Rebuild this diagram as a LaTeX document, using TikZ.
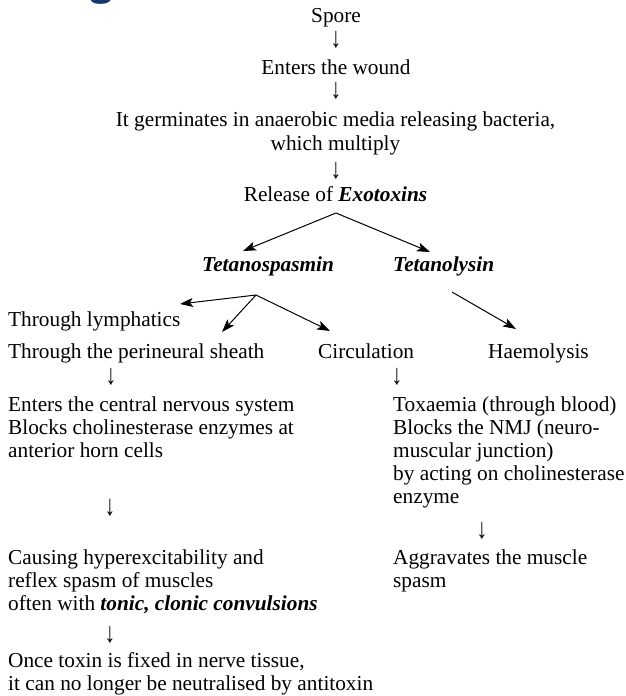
\documentclass[tikz,border=0pt]{standalone}
\usepackage{fontspec}
\setmainfont{Liberation Serif}
\newfontfamily\headfont{Fira Sans}
\usetikzlibrary{arrows.meta}
\definecolor{headblue}{RGB}{22,56,110}
\newcommand{\dnarrow}{\scalebox{1}[1.35]{↓}}
\begin{document}
\begin{tikzpicture}[x=1pt,y=-1pt,
  txt/.style={inner sep=0pt, font=\fontsize{21.3}{23.5}\selectfont},
  lft/.style={txt, anchor=base west},
  ctr/.style={txt, anchor=base},
  darr/.style={txt, anchor=center},
  arr/.style={-{Stealth[length=13pt,width=9pt,inset=3pt]}, line width=1pt}]
\useasboundingbox (0,0) rectangle (626,696);
% heading fragment
\begin{scope}
\clip (0,0) rectangle (626,696);
\node[inner sep=0pt, anchor=base west, text=headblue, font=\headfont\bfseries\fontsize{40}{40}\selectfont] (head) at (90,-5) {g};
\end{scope}
% top chain
\node[ctr] (spore) at (336,23) {Spore};
\node[darr] (d1) at (336,40) {\dnarrow};
\node[ctr] (wound) at (336,74) {Enters the wound};
\node[darr] (d2) at (336,91) {\dnarrow};
\node[ctr] (germ1) at (335.5,126) {It germinates in anaerobic media releasing bacteria,};
\node[ctr] (germ2) at (335.5,150) {which multiply};
\node[darr] (d3) at (336,171) {\dnarrow};
\node[ctr] (rel) at (335.5,201) {Release of \textbf{\textit{Exotoxins}}};
\coordinate (fork1) at (336,213);
% toxins
\node[lft] (tsp) at (202,271) {\textbf{\textit{Tetanospasmin}}};
\node[lft] (tly) at (393,271) {\textbf{\textit{Tetanolysin}}};
\coordinate (tspin) at (243,251);
\coordinate (tlyin) at (430,252);
\draw[arr] (fork1) -- (tspin);
\draw[arr] (fork1) -- (tlyin);
% routes
\node[lft] (lymph) at (8,326) {Through lymphatics};
\node[lft] (peri) at (8,358) {Through the perineural sheath};
\node[lft] (circ) at (318,358) {Circulation};
\node[lft] (haem) at (488,358) {Haemolysis};
\coordinate (fork2) at (256,295);
\coordinate (lymphin) at (180,304);
\coordinate (periin) at (222,332);
\coordinate (circin) at (330,331);
\coordinate (tlyout) at (452,292);
\coordinate (haemin) at (516,329);
\draw[arr] (fork2) -- (lymphin);
\draw[arr] (fork2) -- (periin);
\draw[arr] (fork2) -- (circin);
\draw[arr] (tlyout) -- (haemin);
\node[darr] (d4) at (111,377) {\dnarrow};
\node[darr] (d5) at (397,377) {\dnarrow};
% left column
\node[lft] (cns1) at (8,411) {Enters the central nervous system};
\node[lft] (cns2) at (8,434) {Blocks cholinesterase enzymes at};
\node[lft] (cns3) at (8,457) {anterior horn cells};
\node[darr] (d6) at (110,508) {\dnarrow};
\node[lft] (cau1) at (8,564) {Causing hyperexcitability and};
\node[lft] (cau2) at (8,587) {reflex spasm of muscles};
\node[lft] (cau3) at (8,610) {often with \textbf{\textit{tonic, clonic convulsions}}};
\node[darr] (d8) at (110,635) {\dnarrow};
\node[lft] (once1) at (8,667) {Once toxin is fixed in nerve tissue,};
\node[lft] (once2) at (8,690) {it can no longer be neutralised by antitoxin};
% right column
\node[lft] (tox1) at (393,411) {Toxaemia (through blood)};
\node[lft] (tox2) at (393,434) {Blocks the NMJ (neuro-};
\node[lft] (tox3) at (393,457) {muscular junction)};
\node[lft] (tox4) at (393,480) {by acting on cholinesterase};
\node[lft] (tox5) at (393,503) {enzyme};
\node[darr] (d7) at (482,531) {\dnarrow};
\node[lft] (agg1) at (393,564) {Aggravates the muscle};
\node[lft] (agg2) at (393,587) {spasm};
\end{tikzpicture}
\end{document}
